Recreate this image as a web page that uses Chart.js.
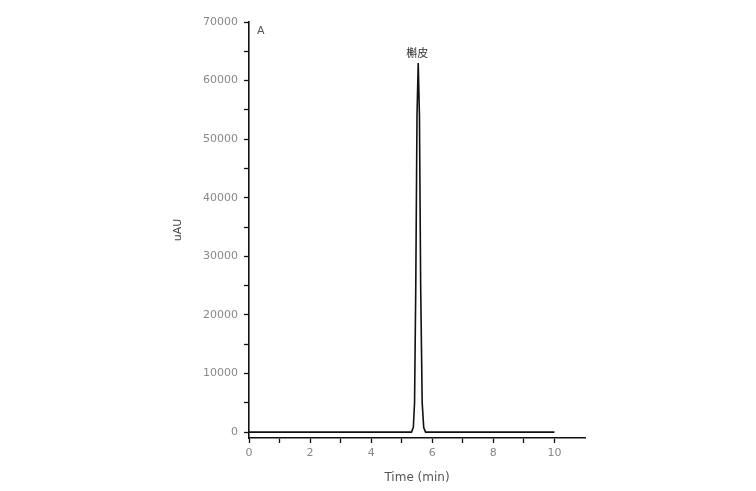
<!DOCTYPE html>
<html lang="zh">
<head>
    <meta charset="UTF-8">
    <title>Chromatogram A</title>
    <script src="https://cdn.jsdelivr.net/npm/chart.js@4.4.1/dist/chart.umd.min.js"></script>
    <style>
        body { margin: 0; background: #fff; }
        canvas { display: block; }
    </style>
</head>
<body>
    <canvas id="chrom" width="756" height="491"></canvas>
    <script>
        // retention time (min) and detector response (uAU)
        const timeMin = [0, 5.32, 5.38, 5.42, 5.46, 5.50, 5.54, 5.58, 5.62, 5.67, 5.72, 5.78, 10];
        const signal  = [0, 0, 800, 5000, 25000, 54000, 63000, 54000, 25000, 5000, 800, 0, 0];
        const yTicks = [0, 10000, 20000, 30000, 40000, 50000, 60000, 70000];
        const xTicks = [0, 2, 4, 6, 8, 10];
        const panelLabel = 'A';
        const peakLabel = '槲皮';
        const peakIndex = 6;

        const points = timeMin.map((t, i) => ({ x: t, y: signal[i] }));
        const tickFont = { family: 'DejaVu Sans, Verdana, sans-serif', size: 11 };

        const annotate = {
            id: 'annotate',
            afterDatasetsDraw(chart) {
                const ctx = chart.ctx;
                const xs = chart.scales.x, ys = chart.scales.y;
                ctx.save();
                ctx.fillStyle = '#555';
                ctx.font = '11px DejaVu Sans, Verdana, sans-serif';
                ctx.textBaseline = 'middle';
                ctx.fillText(panelLabel, chart.chartArea.left + 8, chart.chartArea.top + 9);
                ctx.font = '11px "Noto Sans CJK SC", sans-serif';
                ctx.textAlign = 'center';
                ctx.fillStyle = '#333';
                ctx.fillText(peakLabel, xs.getPixelForValue(timeMin[peakIndex]) - 1,
                    ys.getPixelForValue(signal[peakIndex]) - 10);
                ctx.restore();
            }
        };

        new Chart(document.getElementById('chrom'), {
            type: 'scatter',
            data: {
                datasets: [{
                    data: points,
                    showLine: true,
                    borderColor: '#111',
                    borderWidth: 1.6,
                    pointRadius: 0,
                    tension: 0
                }]
            },
            options: {
                responsive: false,
                animation: false,
                layout: { padding: { left: 170, right: 171, top: 22, bottom: 4 } },
                plugins: { legend: { display: false }, tooltip: { enabled: false } },
                scales: {
                    x: {
                        min: 0,
                        max: 11,
                        afterFit: s => { s.height = 49; },
                        afterBuildTicks: s => {
                            s.ticks = [];
                            for (let v = 0; v <= 10; v++) s.ticks.push({ value: v });
                        },
                        ticks: {
                            color: '#888',
                            font: tickFont,
                            padding: 4,
                            callback: v => xTicks.includes(v) ? String(v) : ''
                        },
                        grid: { drawOnChartArea: false, tickLength: 5, tickColor: '#111', tickWidth: 1.3 },
                        border: { color: '#111', width: 1.6 },
                        title: { display: true, text: 'Time (min)', color: '#555', font: { family: 'DejaVu Sans, Verdana, sans-serif', size: 12 }, padding: 2 }
                    },
                    y: {
                        min: -1000,
                        max: 70000,
                        afterFit: s => { s.width = 79; },
                        afterBuildTicks: s => {
                            s.ticks = [];
                            for (let v = 0; v <= 70000; v += 5000) s.ticks.push({ value: v });
                        },
                        ticks: {
                            color: '#888',
                            font: tickFont,
                            padding: 6,
                            callback: v => yTicks.includes(v) ? String(v) : ''
                        },
                        grid: { drawOnChartArea: false, tickLength: 5, tickColor: '#111', tickWidth: 1.3 },
                        border: { color: '#111', width: 1.6 },
                        title: { display: true, text: 'uAU', color: '#444', font: { family: 'DejaVu Sans, Verdana, sans-serif', size: 11 }, padding: 2 }
                    }
                }
            },
            plugins: [annotate]
        });
    </script>
</body>
</html>
